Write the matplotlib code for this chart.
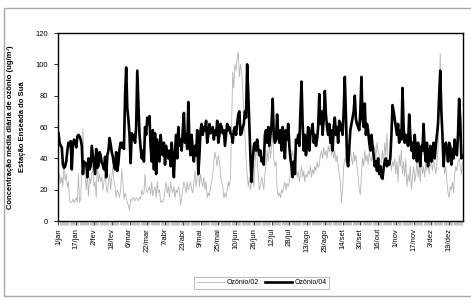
import numpy as np
import matplotlib
matplotlib.use("Agg")
import matplotlib.pyplot as plt
from matplotlib.patches import Rectangle

plt.rcParams['font.family'] = ['Liberation Sans', 'DejaVu Sans']

# daily mean ozone (one value per day, 365 days)
ozonio_04 = [
    56, 50, 48, 47, 36, 34, 35, 38, 45, 50,
    48, 51, 33, 49, 52, 50, 47, 54, 55, 54,
    52, 48, 30, 38, 36, 37, 28, 40, 33, 35,
    48, 42, 36, 30, 46, 34, 35, 44, 42, 37,
    36, 33, 41, 28, 42, 45, 53, 49, 44, 41,
    36, 33, 44, 32, 37, 46, 50, 47, 50, 46,
    80, 98, 72, 65, 55, 37, 56, 52, 55, 50,
    60, 96, 75, 55, 47, 40, 45, 38, 60, 55,
    66, 62, 67, 48, 38, 58, 33, 56, 30, 52,
    45, 38, 55, 48, 42, 50, 36, 48, 44, 40,
    45, 35, 50, 38, 28, 45, 55, 40, 60, 48,
    52, 45, 58, 69, 50, 55, 46, 76, 50, 42,
    55, 45, 38, 48, 42, 58, 30, 42, 58, 62,
    55, 60, 58, 64, 50, 55, 62, 56, 58, 60,
    52, 58, 55, 64, 50, 55, 62, 60, 56, 58,
    48, 55, 62, 58, 60, 56, 55, 50, 58, 60,
    55, 62, 68, 70, 55, 56, 60, 62, 70, 66,
    100, 82, 60, 40, 25, 38, 48, 50, 45, 52,
    46, 42, 45, 38, 40, 36, 55, 58, 50, 60,
    48, 55, 62, 78, 55, 50, 52, 68, 55, 50,
    58, 45, 60, 55, 40, 58, 52, 62, 48, 40,
    35, 28, 38, 30, 52, 50, 55, 48, 70, 89,
    62, 45, 55, 42, 50, 60, 45, 55, 58, 62,
    50, 55, 48, 52, 60, 81, 62, 70, 55, 65,
    83, 68, 60, 55, 62, 50, 58, 45, 60, 66,
    55, 60, 50, 64, 58, 62, 55, 70, 92, 68,
    40, 35, 47, 58, 62, 66, 70, 80, 65, 62,
    60, 58, 70, 92, 65, 60, 75, 55, 62, 58,
    50, 45, 55, 48, 42, 35, 38, 32, 40, 30,
    35, 28, 27, 34, 38, 40, 35, 38, 36, 40,
    55, 74, 70, 65, 60, 55, 62, 50, 58, 52,
    85, 60, 50, 55, 52, 48, 68, 55, 45, 50,
    40, 55, 45, 38, 50, 42, 35, 48, 45, 62,
    45, 38, 50, 35, 42, 48, 38, 45, 50, 40,
    48, 55, 62, 80, 96, 70, 55, 35, 45, 50,
    45, 38, 50, 48, 36, 46, 40, 52, 45, 42,
    55, 78, 65, 40, 42,
]

ozonio_02 = [
    22, 30, 24, 28, 22, 38, 26, 30, 22, 25,
    13, 12, 12, 14, 12, 13, 15, 12, 30, 12,
    14, 32, 59, 35, 28, 20, 30, 16, 28, 24,
    30, 35, 22, 25, 15, 38, 25, 30, 25, 28,
    20, 25, 30, 22, 18, 25, 30, 20, 28, 35,
    25, 22, 15, 20, 18, 15, 20, 33, 25, 14,
    18, 15, 12, 10, 7, 14, 13, 15, 14, 13,
    15, 14, 13, 15, 14, 20, 17, 18, 30, 20,
    18, 20, 22, 17, 25, 16, 20, 22, 15, 25,
    18, 20, 12, 13, 12, 14, 20, 25, 18, 22,
    15, 25, 20, 18, 22, 15, 20, 18, 22, 20,
    10, 15, 20, 25, 22, 18, 25, 20, 22, 25,
    20, 18, 25, 32, 22, 28, 35, 22, 30, 25,
    22, 28, 20, 25, 15, 18, 16, 22, 25, 30,
    38, 44, 40, 35, 42, 38, 30, 25, 22, 15,
    18, 15, 20, 25, 22, 28, 60, 95, 85, 100,
    96, 104, 108, 92, 100, 95, 85, 70, 55, 40,
    30, 22, 28, 20, 25, 30, 22, 35, 48, 40,
    30, 20, 22, 28, 25, 20, 30, 35, 45, 38,
    52, 40, 48, 55, 40, 35, 38, 20, 16, 18,
    15, 20, 18, 22, 25, 20, 24, 22, 25, 30,
    40, 45, 38, 42, 35, 28, 32, 25, 30, 35,
    28, 32, 25, 30, 28, 32, 30, 35, 28, 33,
    30, 35, 32, 38, 34, 36, 42, 45, 40, 47,
    42, 45, 40, 48, 44, 50, 42, 46, 40, 45,
    38, 42, 35, 30, 25, 12, 20, 35, 40, 38,
    35, 42, 38, 45, 40, 36, 44, 38, 42, 35,
    28, 20, 17, 30, 40, 35, 45, 38, 42, 36,
    44, 40, 38, 45, 42, 48, 40, 50, 45, 42,
    30, 38, 45, 35, 50, 42, 56, 38, 35, 40,
    32, 38, 35, 40, 30, 38, 25, 42, 35, 45,
    30, 38, 28, 40, 22, 30, 25, 35, 20, 28,
    35, 25, 30, 38, 28, 35, 25, 40, 30, 35,
    28, 38, 32, 40, 30, 35, 38, 32, 40, 35,
    30, 38, 45, 80, 107, 60, 45, 38, 30, 35,
    25, 18, 15, 22, 20, 25, 18, 30, 35, 32,
    38, 40, 35, 30, 38,
]

tick_labels = ['1/jan', '17/jan', '2/fev', '18/fev', '6/mar', '22/mar', '7/abr',
               '23/abr', '9/mai', '25/mai', '10/jun', '26/jun', '12/jul', '28/jul',
               '13/ago', '29/ago', '14/set', '30/set', '16/out', '1/nov', '17/nov',
               '3/dez', '19/dez']

days = np.arange(len(ozonio_04))

fig = plt.figure(figsize=(4.71, 3.0), dpi=100)
ax = fig.add_axes([0.123, 0.263, 0.860, 0.627])

ax.plot(days, ozonio_02, color='#b4b4b4', lw=0.6, label='Ozônio/02')
ax.plot(days, ozonio_04, color='black', lw=1.9, label='Ozônio/04')

ax.set_xlim(-0.5, 364.5)
ax.set_ylim(0, 120)
ax.set_yticks(np.arange(0, 121, 20))
ax.set_xticks(np.arange(0, 365, 16))
ax.set_xticklabels(tick_labels, rotation=90, fontsize=5.5)
ax.set_xticks(days, minor=True)
ax.tick_params(axis='y', labelsize=5.5, length=3, width=0.6, pad=4)
ax.tick_params(axis='x', which='major', length=3, width=0.5, pad=2)
ax.tick_params(axis='x', which='minor', length=3, width=0.4, color='#909090')
for s in ax.spines.values():
    s.set_linewidth(1.0)

fig.text(0.022, 0.577, 'Concentração média diária de ozônio (ug/m³)',
         rotation=90, fontsize=5.5, fontweight='bold', ha='center', va='center')
fig.text(0.048, 0.577, 'Estação Enseada do Suá',
         rotation=90, fontsize=5.5, fontweight='bold', ha='center', va='center')

leg = fig.legend(loc='center', bbox_to_anchor=(0.556, 0.057), ncol=2,
                 fontsize=5, frameon=True, fancybox=False, edgecolor='#a0a0a0',
                 handlelength=4, handletextpad=0.3, columnspacing=0.8,
                 borderpad=0.4)
leg.get_frame().set_linewidth(0.6)

# outer chart frame (top, left, bottom; right edge falls off the picture)
fig.patches.append(Rectangle((0.0085, 0.0133), 1.05, 0.96, transform=fig.transFigure,
                             fill=False, edgecolor='#a8a8a8', lw=1.0))

fig.savefig('out.png', dpi=100)
